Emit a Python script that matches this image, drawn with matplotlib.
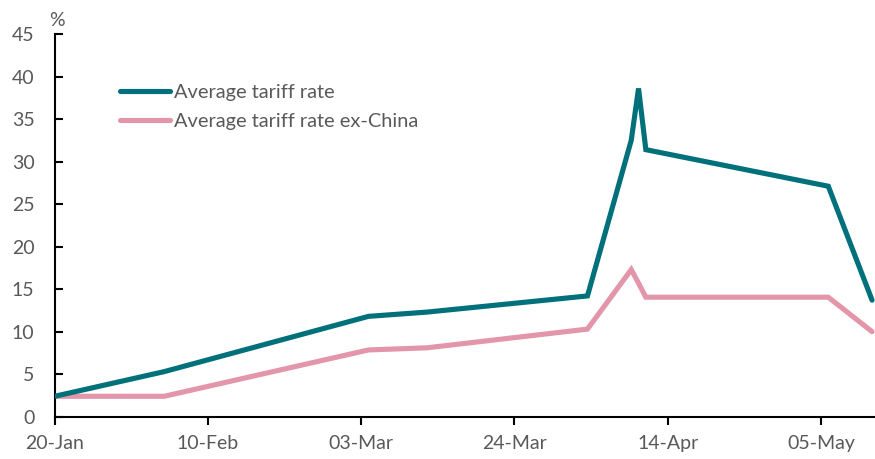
import matplotlib
matplotlib.use("Agg")
import matplotlib.pyplot as plt
import matplotlib.dates as mdates
import pandas as pd

plt.rcParams['font.family'] = ['Lato', 'DejaVu Sans']

dates = ["2025-01-20", "2025-02-04", "2025-03-04", "2025-03-12", "2025-04-03",
         "2025-04-09", "2025-04-10", "2025-04-11", "2025-05-06", "2025-05-12"]
avg_rate = [2.4, 5.3, 11.8, 12.3, 14.2, 32.5, 38.6, 31.4, 27.1, 13.7]
avg_rate_ex_china = [2.4, 2.4, 7.85, 8.1, 10.3, 17.3, 15.7, 14.05, 14.05, 10.0]
series_labels = ["Average tariff rate", "Average tariff rate ex-China"]
tick_dates = ["2025-01-20", "2025-02-10", "2025-03-03", "2025-03-24", "2025-04-14", "2025-05-05"]
y_ticks = [0, 5, 10, 15, 20, 25, 30, 35, 40, 45]

x = pd.to_datetime(dates)
teal = "#00707A"
pink = "#E396A9"
gray = "#595959"
fs = 14

fig = plt.figure(figsize=(8.75, 4.59), dpi=100)
ax = fig.add_axes([54.7/875, (459-416.7)/459, 1 - 54.7/875, (416.7-34)/459])

ax.plot(x, avg_rate, color=teal, lw=3.7, label=series_labels[0],
        solid_joinstyle='miter', solid_capstyle='round', zorder=3)
ax.plot(x, avg_rate_ex_china, color=pink, lw=3.7, label=series_labels[1],
        solid_joinstyle='miter', solid_capstyle='round', zorder=2)

ax.set_xlim(pd.Timestamp("2025-01-20"), pd.Timestamp("2025-01-20") + pd.Timedelta(days=112.4))
ax.set_ylim(0, 45)
ax.set_yticks(y_ticks)
ax.set_xticks(pd.to_datetime(tick_dates))
ax.xaxis.set_major_formatter(mdates.DateFormatter("%d-%b"))

for s in ["top", "right"]:
    ax.spines[s].set_visible(False)
for s in ["left", "bottom"]:
    ax.spines[s].set_linewidth(1.5)
    ax.spines[s].set_color("black")

ax.tick_params(axis='y', direction='in', length=6, width=1.5, labelsize=fs, labelcolor=gray, pad=14.5)
ax.tick_params(axis='x', direction='out', length=6, width=1.5, labelsize=fs, labelcolor=gray, pad=7)

fig.text(57/875, 1 - 20/459, "%", fontsize=fs, color=gray, ha='center', va='center')

leg = ax.legend(loc='upper left', bbox_to_anchor=(120/875, 1 - 84/459), bbox_transform=fig.transFigure,
                frameon=False, fontsize=14.4, handlelength=2.5, handletextpad=0.2,
                labelspacing=0.58, borderpad=0, borderaxespad=0)
for t in leg.get_texts():
    t.set_color(gray)

fig.savefig("out.png", dpi=100)
